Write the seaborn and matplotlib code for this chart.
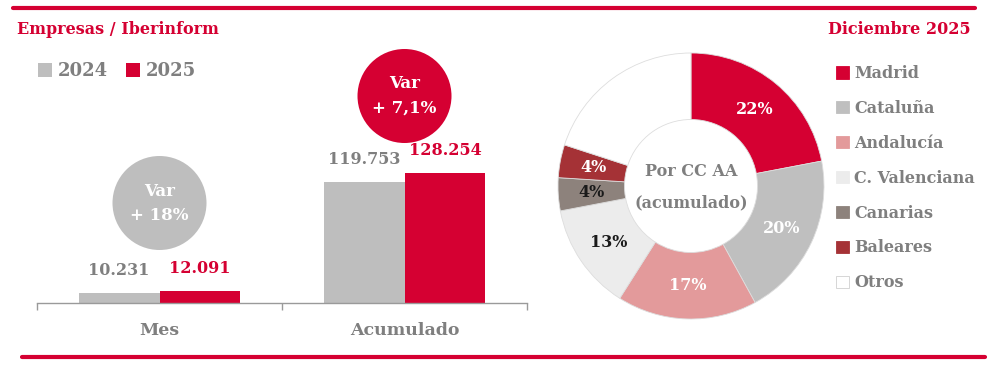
import matplotlib
matplotlib.use("Agg")
import matplotlib.pyplot as plt
import seaborn as sns
import pandas as pd
import numpy as np
from matplotlib.patches import Circle
from matplotlib.lines import Line2D

# ---------------- data ----------------
categories = ["Mes", "Acumulado"]
years = ["2024", "2025"]
values_2024 = [10231, 119753]
values_2025 = [12091, 128254]
var_labels = ["+ 18%", "+ 7,1%"]

regions = ["Madrid", "Cataluña", "Andalucía", "C. Valenciana", "Canarias", "Baleares", "Otros"]
shares = [22, 20, 17, 13, 4, 4, 20]
show_pct = [True, True, True, True, True, True, False]

# ---------------- style ----------------
sns.set_theme(style="white")
plt.rcParams['font.family'] = ['DejaVu Serif']

RED = "#d50032"
GRAY = "#bebebe"
TXT = "#7f7f7f"
region_colors = ["#d50032", "#bfbfbf", "#e39a9b", "#ececec", "#8d827c", "#a53236", "#ffffff"]
pct_colors = ["white", "white", "white", "#1a1a1a", "#1a1a1a", "white", "white"]

W, H = 1002, 368
fig = plt.figure(figsize=(W / 100, H / 100), dpi=100)
fig.patch.set_facecolor("white")


def fr(x, y, w, h):
    return [x / W, 1 - (y + h) / H, w / W, h / H]


# ---------------- bar chart ----------------
ax = fig.add_axes(fr(37, 303 - 243, 490, 243))
ax.patch.set_visible(False)
df = pd.DataFrame({
    "periodo": categories * 2,
    "año": [years[0]] * len(categories) + [years[1]] * len(categories),
    "valor": values_2024 + values_2025,
})
sns.barplot(data=df, x="periodo", y="valor", hue="año", palette=[GRAY, RED],
            width=0.66, saturation=1, errorbar=None, linewidth=0, ax=ax)
ax.set_xlim(-0.5, 1.5)
ax.set_ylim(0, 240000)
ax.set_xlabel("")
ax.set_ylabel("")
ax.set_yticks([])
for s in ["top", "right", "left"]:
    ax.spines[s].set_visible(False)
ax.spines["bottom"].set_color("#9a9a9a")
ax.spines["bottom"].set_linewidth(1.0)
ax.set_xticks([-0.5, 0.5, 1.5], minor=True)
ax.tick_params(axis="x", which="minor", length=5, width=1, color="#9a9a9a", direction="out", bottom=True)
ax.tick_params(axis="x", which="major", length=0, pad=14, labelsize=12.5, labelcolor=TXT)
for lab in ax.get_xticklabels():
    lab.set_fontweight("bold")


def fmt(v):
    return f"{v:,.0f}".replace(",", ".")


for cont, col, vals in zip(ax.containers, [TXT, RED], [values_2024, values_2025]):
    ax.bar_label(cont, labels=[fmt(v) for v in vals], padding=10, color=col,
                 fontsize=11.5, fontweight="bold")

sns.move_legend(ax, "upper left", bbox_to_anchor=(38 / W, 1 - 62 / H),
                bbox_transform=fig.transFigure, ncol=2, title=None, frameon=False,
                labelcolor=TXT, handlelength=0.8, handleheight=0.8,
                handletextpad=0.3, columnspacing=1.0, borderpad=0, borderaxespad=0,
                prop={"weight": "bold", "size": 13})

# ---------------- donut ----------------
cx, cy, R = 691, 186, 133
ax2 = fig.add_axes(fr(cx - R, cy - R, 2 * R, 2 * R))
ax2.patch.set_visible(False)
wedges, _ = ax2.pie(shares, colors=region_colors, startangle=90, counterclock=False,
                    radius=1, wedgeprops=dict(width=0.5, edgecolor="#dddddd", linewidth=0.6))
for w, show, pc, s in zip(wedges, show_pct, pct_colors, shares):
    if not show:
        continue
    ang = np.deg2rad((w.theta1 + w.theta2) / 2)
    ax2.text(0.75 * np.cos(ang), 0.75 * np.sin(ang), f"{s}%", ha="center", va="center",
             color=pc, fontsize=11.5, fontweight="bold")
ax2.text(0, 0.11, "Por CC AA", ha="center", va="center", color=TXT, fontsize=11.5, fontweight="bold")
ax2.text(0, -0.13, "(acumulado)", ha="center", va="center", color=TXT, fontsize=11.5, fontweight="bold")
ax2.set_xlim(-1, 1)
ax2.set_ylim(-1, 1)
ax2.set_aspect("equal")
leg = ax2.legend(wedges, regions, loc="upper left", bbox_to_anchor=(836 / W, 1 - 65 / H),
                 bbox_transform=fig.transFigure, frameon=False, labelcolor=TXT,
                 handlelength=0.8, handleheight=0.8, handletextpad=0.35, labelspacing=1.12,
                 borderpad=0, borderaxespad=0, prop={"weight": "bold", "size": 11.5})
for h, c in zip(leg.legend_handles, region_colors):
    h.set_edgecolor("#d0d0d0" if c == "#ffffff" else c)

# ---------------- overlay: titles, lines, bubbles ----------------
ov = fig.add_axes([0, 0, 1, 1], zorder=5)
ov.patch.set_visible(False)
ov.set_xlim(0, W)
ov.set_ylim(H, 0)
ov.axis("off")

ov.add_line(Line2D([13, 975], [8, 8], color=RED, lw=3))
ov.add_line(Line2D([22, 985], [357, 357], color=RED, lw=3))
ov.text(17, 30, "Empresas / Iberinform", ha="left", va="center", color=RED,
        fontsize=11.5, fontweight="bold")
ov.text(971, 30, "Diciembre 2025", ha="right", va="center", color=RED,
        fontsize=11.5, fontweight="bold")

bub_y = [203, 96]
bub_c = [GRAY, RED]
for i, (lab, by, bc) in enumerate(zip(var_labels, bub_y, bub_c)):
    bx = ax.transData.transform((i, 0))[0]
    ov.add_patch(Circle((bx, by), 47, color=bc, lw=0))
    ov.text(bx, by - 12, "Var", ha="center", va="center", color="white", fontsize=12, fontweight="bold")
    ov.text(bx, by + 12, lab, ha="center", va="center", color="white", fontsize=12, fontweight="bold")

fig.savefig("out.png", dpi=100, facecolor="white")
